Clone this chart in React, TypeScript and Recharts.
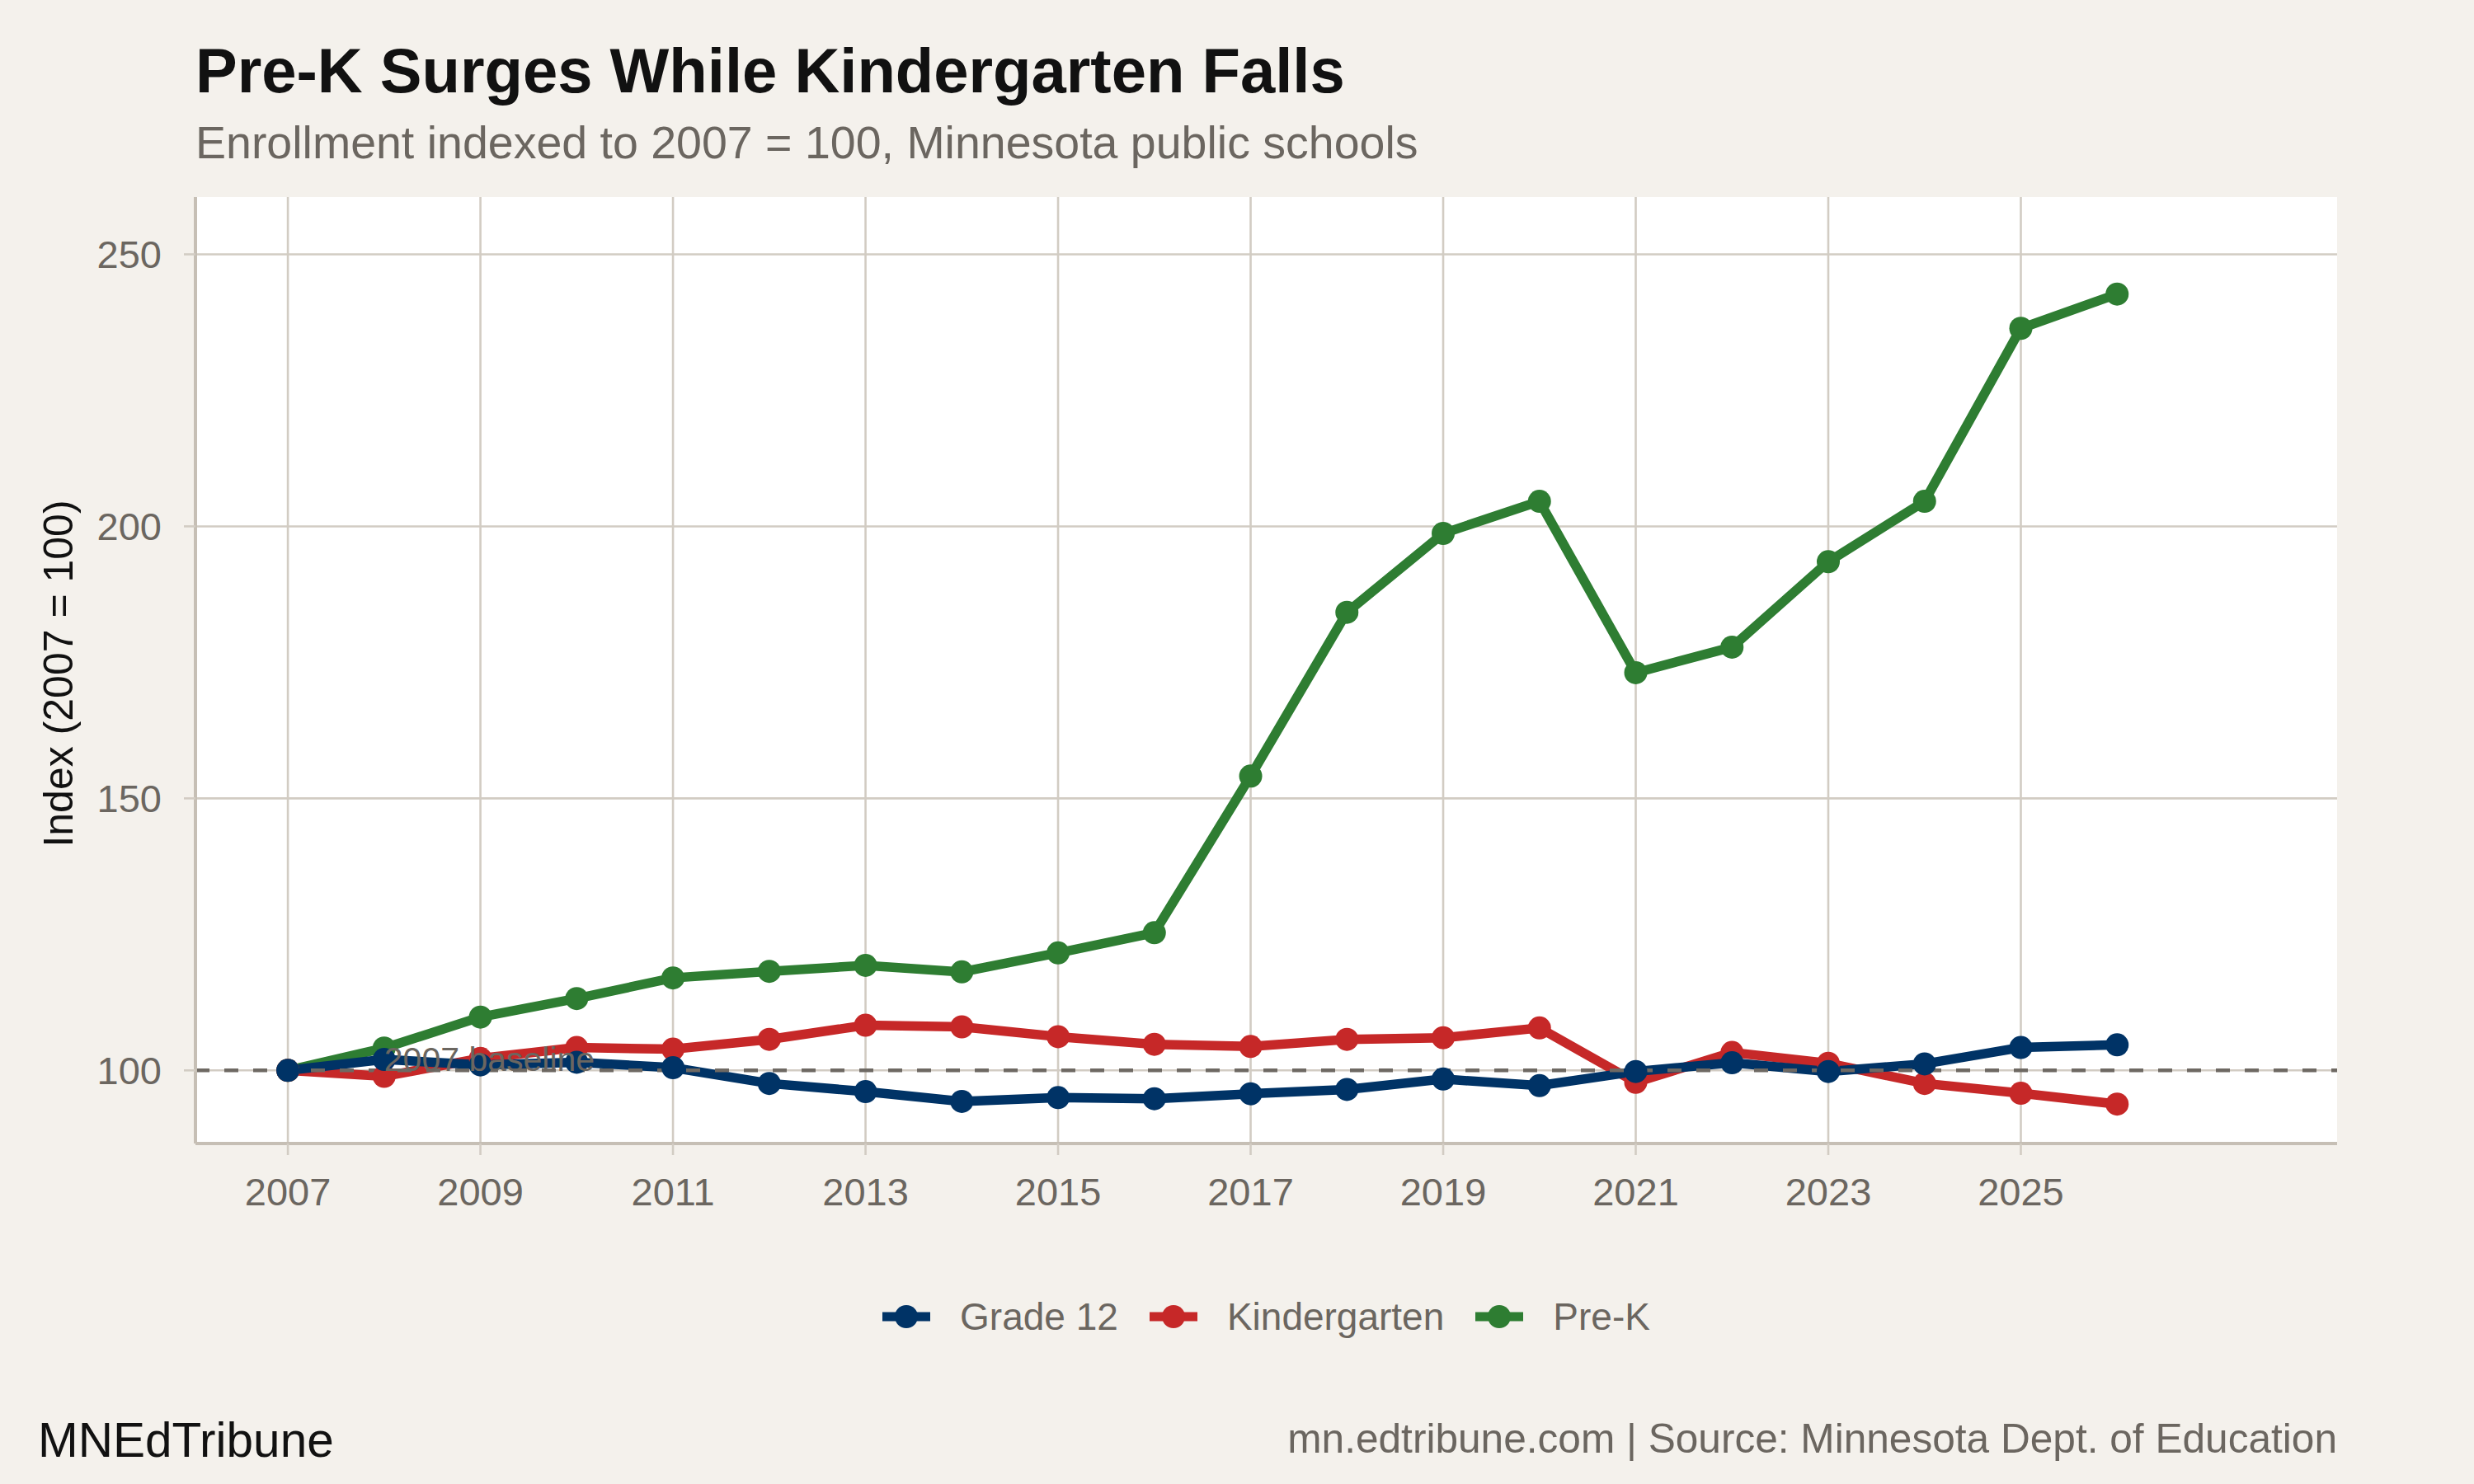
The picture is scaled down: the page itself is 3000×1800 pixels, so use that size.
import React from 'react';
import {
  LineChart, Line, XAxis, YAxis, CartesianGrid, ReferenceLine, ReferenceDot,
} from 'recharts';

// enrollment index, 2007 = 100
const years = [2007, 2008, 2009, 2010, 2011, 2012, 2013, 2014, 2015, 2016, 2017, 2018, 2019, 2020, 2021, 2022, 2023, 2024, 2025, 2026];
const grade12 = [100, 102.0, 101.0, 101.5, 100.5, 97.6, 96.1, 94.3, 95.0, 94.8, 95.7, 96.5, 98.4, 97.2, 99.8, 101.4, 99.8, 101.2, 104.2, 104.7];
const kindergarten = [100, 98.9, 102.2, 104.2, 103.9, 105.7, 108.3, 108.0, 106.2, 104.8, 104.4, 105.7, 106.0, 107.8, 97.8, 103.3, 101.3, 97.6, 95.8, 93.8];
const preK = [100, 104.1, 109.8, 113.2, 117.0, 118.2, 119.3, 118.1, 121.6, 125.3, 154.1, 184.2, 198.7, 204.6, 173.1, 177.8, 193.5, 204.6, 236.4, 242.7];

const xTicks = [2007, 2009, 2011, 2013, 2015, 2017, 2019, 2021, 2023, 2025];
const yTicks = [100, 150, 200, 250];

const series = [
  { key: 'grade12', name: 'Grade 12', color: '#003366', values: grade12 },
  { key: 'kindergarten', name: 'Kindergarten', color: '#c62828', values: kindergarten },
  { key: 'preK', name: 'Pre-K', color: '#2e7d32', values: preK },
];

const rows = years.map((year, i) => {
  const row: Record<string, number> = { year };
  series.forEach((s) => { row[s.key] = s.values[i]; });
  return row;
});

const FONT = '"Liberation Sans", Arial, Helvetica, sans-serif';
const BG = '#f4f1ec';
const GREY_TEXT = '#6b6660';
const GRID = '#d2ccc3';
const AXIS = '#c6bfb5';

const BaselineLabel = (props: any) => {
  const { viewBox } = props;
  return (
    <text x={viewBox.x} y={viewBox.y + 1} fontSize={41} fill={GREY_TEXT} fontFamily={FONT}>
      2007 baseline
    </text>
  );
};

const LegendKey = ({ color }: { color: string }) => (
  <svg width={58} height={30} style={{ display: 'block' }}>
    <line x1={0} y1={15} x2={58} y2={15} stroke={color} strokeWidth={11} />
    <circle cx={29} cy={15} r={14} fill={color} />
  </svg>
);

export default function App() {
  return (
    <div style={{ position: 'absolute', left: 0, top: 0, width: 3000, height: 1800, background: BG, fontFamily: FONT, overflow: 'hidden' }}>
      <svg width={3000} height={1800} style={{ position: 'absolute', left: 0, top: 0 }}>
        <text x={237} y={112} fontSize={76} fontWeight="bold" fill="#111">
          Pre-K Surges While Kindergarten Falls
        </text>
        <text x={237} y={192} fontSize={55.5} fill={GREY_TEXT}>
          Enrollment indexed to 2007 = 100, Minnesota public schools
        </text>
        <text x={88} y={817} fontSize={50} fill="#111" textAnchor="middle" transform="rotate(-90 88 817)">
          Index (2007 = 100)
        </text>
        <text x={46} y={1767} fontSize={58.5} fill="#111">MNEdTribune</text>
        <text x={2834} y={1762} fontSize={49.6} fill={GREY_TEXT} textAnchor="end">
          mn.edtribune.com | Source: Minnesota Dept. of Education
        </text>
      </svg>

      <div style={{ position: 'absolute', left: 0, top: 0 }}>
        <LineChart width={3000} height={1800} data={rows} margin={{ top: 239, right: 166, bottom: 293, left: 0 }}>
          <CartesianGrid stroke={GRID} strokeWidth={2.6} fill="#ffffff" horizontalValues={yTicks} verticalValues={xTicks} />
          <XAxis
            dataKey="year"
            type="number"
            domain={[2006.04, 2028.285]}
            allowDataOverflow
            ticks={xTicks}
            height={120}
            tickSize={14}
            tickMargin={28}
            axisLine={{ stroke: AXIS, strokeWidth: 4 }}
            tickLine={{ stroke: GRID, strokeWidth: 2.6 }}
            tick={{ fontSize: 47, fill: GREY_TEXT }}
          />
          <YAxis
            type="number"
            domain={[86.56, 260.53]}
            allowDataOverflow
            ticks={yTicks}
            width={237}
            tickSize={14}
            tickMargin={27}
            axisLine={{ stroke: AXIS, strokeWidth: 4 }}
            tickLine={{ stroke: GRID, strokeWidth: 2.6 }}
            tick={{ fontSize: 47, fill: GREY_TEXT }}
          />
          {[...series].reverse().map((s) => (
            <Line
              key={s.key}
              dataKey={s.key}
              name={s.name}
              type="linear"
              stroke={s.color}
              strokeWidth={11.5}
              dot={{ r: 14, fill: s.color, stroke: 'none', strokeWidth: 0 }}
              activeDot={false}
              isAnimationActive={false}
            />
          ))}
          <ReferenceLine y={100} stroke="#6e6963" strokeWidth={4.5} strokeDasharray="17 18" />
          <ReferenceDot x={2008} y={100} r={0} fill="none" stroke="none" label={<BaselineLabel />} />
        </LineChart>
      </div>

      <div
        style={{
          position: 'absolute', left: 237, width: 2597, top: 1567, height: 60,
          display: 'flex', justifyContent: 'center', alignItems: 'center', gap: 38,
        }}
      >
        {series.map((s) => (
          <div key={s.key} style={{ display: 'flex', alignItems: 'center', gap: 36 }}>
            <LegendKey color={s.color} />
            <span style={{ fontSize: 46, color: GREY_TEXT, lineHeight: '60px' }}>{s.name}</span>
          </div>
        ))}
      </div>
    </div>
  );
}
